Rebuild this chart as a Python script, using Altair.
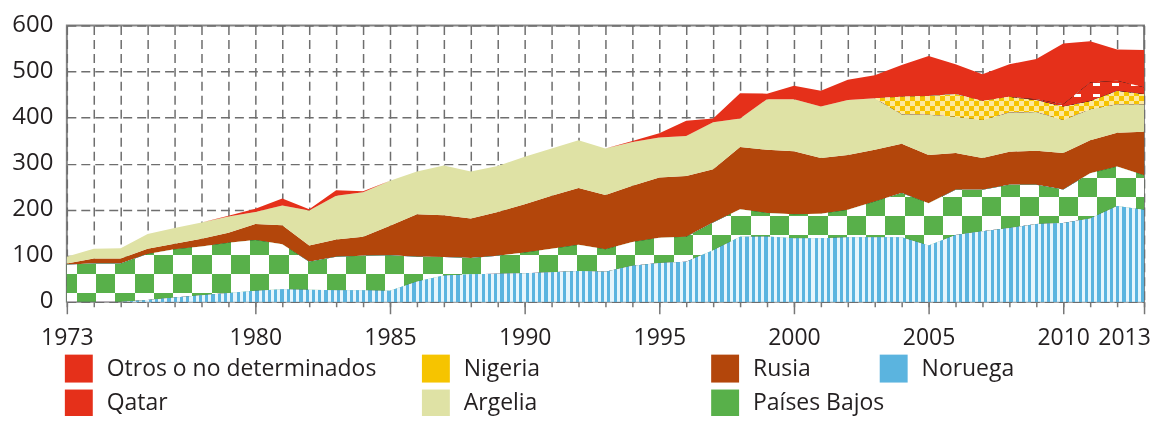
import math
import altair as alt
import pandas as pd

# ---------------- data ----------------
years = list(range(1973, 2014))

noruega = [0, 0, 0, 4, 9, 14, 19, 24, 27, 26, 25, 25, 24, 44, 57, 60, 61, 62, 64, 67,
           65, 78, 84, 87, 112, 141, 142, 138, 138, 140, 140, 140, 122, 145, 153, 160,
           169, 171, 181, 208, 200]
paises_bajos = [81, 83, 83, 100, 105, 106, 109, 110, 98, 61, 73, 75, 77, 54, 40, 35, 39,
                45, 51, 57, 49, 52, 55, 54, 60, 60, 51, 52, 53, 60, 78, 96, 92, 98, 90,
                94, 85, 73, 98, 86, 75]
rusia = [2, 11, 11, 11, 12, 17, 22, 35, 41, 35, 37, 41, 64, 92, 91, 86, 95, 105, 115,
         123, 118, 122, 131, 132, 116, 135, 137, 137, 121, 119, 112, 107, 105, 80, 69,
         72, 74, 79, 72, 73, 94]
argelia = [15, 21, 22, 32, 34, 35, 35, 26, 43, 76, 95, 97, 98, 93, 108, 102, 100, 103,
           103, 104, 101, 95, 87, 87, 102, 62, 110, 113, 112, 119, 112, 64, 87, 79, 83,
           85, 84, 72, 67, 62, 60]
nigeria = [0, 0, 0, 0, 0, 0, 0, 0, 0, 0, 0, 0, 0, 0, 0, 0, 0, 0, 0, 0, 0, 0, 0, 0, 0,
           0, 0, 0, 0, 0, 0, 38, 41, 49, 41, 34, 26, 29, 18, 29, 22]
qatar = [0, 0, 0, 0, 0, 0, 0, 0, 0, 0, 0, 0, 0, 0, 0, 0, 0, 0, 0, 0, 0, 0, 0, 0, 0,
         0, 0, 0, 0, 0, 0, 0, 0, 0, 0, 0, 2, 5, 40, 22, 15]
otros = [0, 0, 0, 0, 0, 0, 2, 7, 15, 3, 12, 2, 0, 0, 0, 0, 0, 0, 0, 0, 0, 2, 9, 33, 8,
         55, 12, 29, 34, 44, 50, 69, 87, 65, 58, 71, 87, 132, 90, 68, 81]

series_names = ["Noruega", "Países Bajos", "Rusia", "Argelia", "Nigeria", "Qatar",
                "Otros o no determinados"]
series_values = [noruega, paises_bajos, rusia, argelia, nigeria, qatar, otros]

x_label_years = [1973, 1980, 1985, 1990, 1995, 2000, 2005, 2010, 2013]
y_ticks = [0, 100, 200, 300, 400, 500, 600]

rows = []
for order, (name, vals) in enumerate(zip(series_names, series_values)):
    for yr, v in zip(years, vals):
        rows.append({"Year": yr, "Series": name, "Value": v, "Order": order})
df = pd.DataFrame(rows)

# ---------------- geometry / style ----------------
W, H = 1080, 277
YMAX = 600
FONT = "Open Sans"
TXT = "#231f20"
GRID = "#6e6e6e"

RED = "#e5301a"
ARG = "#dfe2a5"
RUS = "#b3460b"
GREEN = "#58b04a"
BLUE = "#5bb4df"
BLUE_L = "#e6f5fc"
YEL = "#f6c400"
YEL_L = "#fde99e"

# bounding boxes of each stacked band (pixels) for the pattern gradients
cum_top, cum_bot = {}, {}
running = [0] * len(years)
for name, vals in zip(series_names, series_values):
    cum_bot[name] = running[:]
    cum_top[name] = [b + v for b, v in zip(running, vals)]
    running = cum_top[name]


def ypx(v):
    return H * (1 - v / YMAX)


def bbox_y(name):
    return ypx(max(cum_top[name])), ypx(min(cum_bot[name]))


def stripe_stops(length, period, on, phase, c_on, c_off):
    stops = []
    p = phase - period * math.ceil(phase / period)
    while p < length:
        for a, b, c in ((p, p + on, c_on), (p + on, p + period, c_off)):
            a2, b2 = max(a, 0.0), min(b, length)
            if b2 > a2:
                stops.append({"offset": round(a2 / length, 6), "color": c})
                stops.append({"offset": round(b2 / length, 6), "color": c})
        p += period
    return stops


def grad(stops, vertical=False):
    return {"gradient": "linear", "x1": 0, "y1": 0,
            "x2": 0 if vertical else 1, "y2": 1 if vertical else 0, "stops": stops}


xscale = alt.Scale(domain=[1973, 2013], nice=False, zero=False)
yscale = alt.Scale(domain=[0, YMAX], nice=False)

axis_minor = alt.Axis(values=years, orient="bottom", title=None, labels=False,
                      domain=False, ticks=True, tickSize=5, tickColor="#777777",
                      tickWidth=1.5, grid=True, gridColor=GRID, gridDash=[9, 5],
                      gridWidth=1.5)
axis_major = alt.Axis(values=x_label_years, orient="bottom", title=None, format="d",
                      domain=False, grid=False, ticks=True, tickSize=12,
                      tickColor="#777777", tickWidth=1.5, labelFont=FONT,
                      labelFontSize=23, labelColor=TXT, labelPadding=13,
                      labelOverlap=False, labelFlush=False,
                      labelOffset={"condition": {"test": "datum.value == 2013", "value": -20},
                                   "value": 0})
axis_y = alt.Axis(values=y_ticks, title=None, domain=False, ticks=False, grid=True,
                  gridColor=GRID, gridDash=[9, 5], gridWidth=1.5, labelFont=FONT,
                  labelFontSize=24, labelColor=TXT, labelPadding=14, labelOffset=-1,
                  labelFlush=False)


def legend(x, y):
    return alt.Legend(title=None, orient="none", legendX=x, legendY=y,
                      direction="vertical", symbolType="square", symbolSize=784,
                      symbolStrokeWidth=0, symbolOpacity=1, labelFont=FONT,
                      labelFontSize=23, labelColor=TXT, labelOffset=14, rowPadding=7,
                      labelLimit=400, padding=0)


def base_layer(names, colors, lx, ly, x_axis=None, y_axis=None):
    return alt.Chart().transform_filter(
        alt.FieldOneOfPredicate(field="Series", oneOf=names)
    ).mark_area(interpolate="linear").encode(
        x=alt.X("Year:Q", scale=xscale, axis=x_axis),
        y=alt.Y("y1:Q", scale=yscale, axis=y_axis, stack=None),
        y2=alt.Y2("y0:Q"),
        fill=alt.Fill("Series:N", scale=alt.Scale(domain=names, range=colors),
                      legend=legend(lx, ly)),
    )


def pat_layer(name, fill, blend=None):
    kw = {"fill": fill, "interpolate": "linear"}
    if blend:
        kw["blend"] = blend
    return alt.Chart().transform_filter(alt.datum.Series == name).mark_area(**kw).encode(
        x=alt.X("Year:Q", scale=xscale, axis=None),
        y=alt.Y("y1:Q", scale=yscale, axis=None, stack=None),
        y2=alt.Y2("y0:Q"),
    )


LEG_Y = 330
layers = [
    base_layer(["Noruega"], [BLUE], 815, LEG_Y, x_axis=axis_minor, y_axis=axis_y),
    base_layer(["Rusia", "Países Bajos"], [RUS, GREEN], 646, LEG_Y, x_axis=axis_major),
    base_layer(["Nigeria", "Argelia"], [YEL, ARG], 356, LEG_Y),
    base_layer(["Otros o no determinados", "Qatar"], [RED, RED], -2, LEG_Y),
]

# Países Bajos: green / white checkerboard
CELL = 19.3
top, bot = bbox_y("Países Bajos")
layers += [
    pat_layer("Países Bajos", grad(stripe_stops(W, 2 * CELL, CELL, 10, "#ffffff", "#000000"))),
    pat_layer("Países Bajos", grad(stripe_stops(bot - top, 2 * CELL, CELL,
                                                (268.3 - top) % (2 * CELL),
                                                "#ffffff", "#000000"), vertical=True),
              blend="difference"),
    pat_layer("Países Bajos", GREEN, blend="lighten"),
]

# Nigeria: yellow small checkerboard
NC = 5.0
top, bot = bbox_y("Nigeria")
layers += [
    pat_layer("Nigeria", grad(stripe_stops(W, 2 * NC, NC, 0, "#ffffff", "#000000"))),
    pat_layer("Nigeria", grad(stripe_stops(bot - top, 2 * NC, NC, 0, "#ffffff", "#000000"),
                              vertical=True), blend="difference"),
    pat_layer("Nigeria", YEL, blend="lighten"),
    pat_layer("Nigeria", YEL_L, blend="darken"),
]

# Qatar: red with short white dashes
top, bot = bbox_y("Qatar")
layers += [
    pat_layer("Qatar", grad(stripe_stops(W, 19, 7, 3, "#ffffff", "#000000"))),
    pat_layer("Qatar", grad(stripe_stops(bot - top, 11, 3, 2, "#ffffff", "#000000"),
                            vertical=True), blend="multiply"),
    pat_layer("Qatar", RED, blend="lighten"),
]

# Noruega: vertical blue stripes
layers += [pat_layer("Noruega", grad(stripe_stops(W, 6.3, 3.2, 0, BLUE, BLUE_L)))]

chart = alt.layer(*layers, data=df).transform_stack(
    stack="Value", groupby=["Year"], as_=["y0", "y1"],
    sort=[alt.SortField("Order", order="ascending")],
).resolve_scale(fill="independent").resolve_axis(
    x="independent", y="independent"
).properties(
    width=W, height=H,
    padding={"left": 59, "top": 17, "right": 12, "bottom": 114},
    autosize=alt.AutoSizeParams(type="none"),
).configure_view(stroke="#858585", strokeWidth=2)

chart.save("out.html", embed_options={"renderer": "svg", "actions": False})
